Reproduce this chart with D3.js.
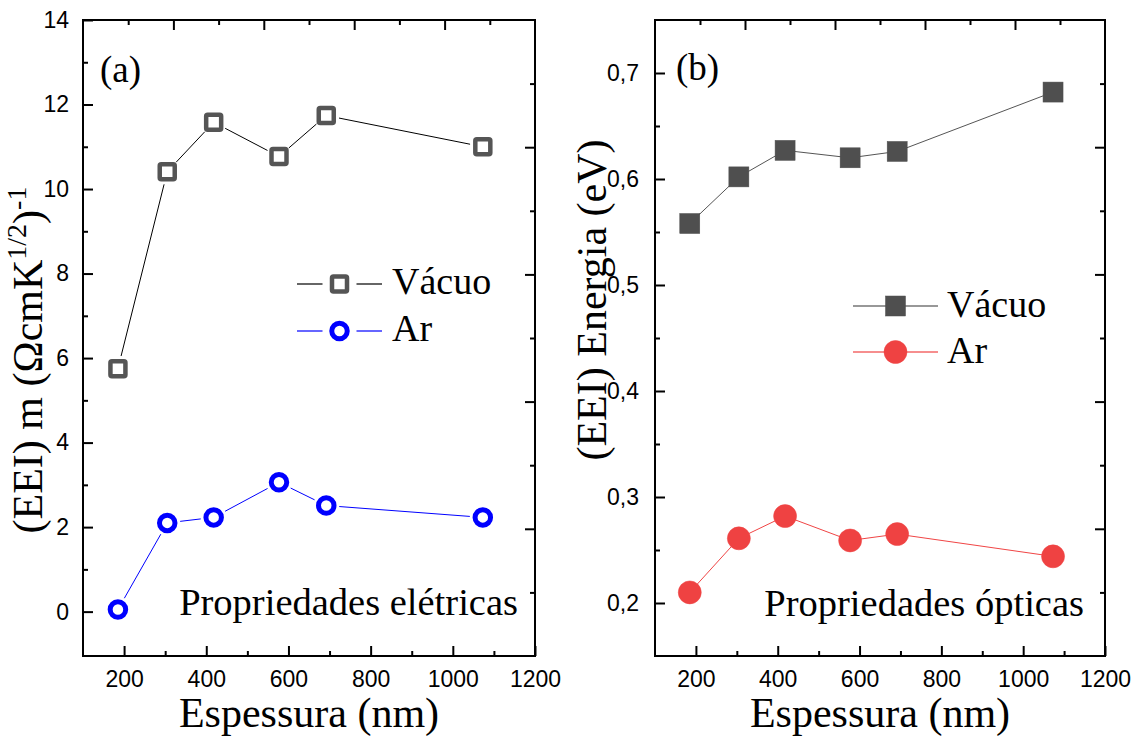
<!DOCTYPE html>
<html>
<head>
<meta charset="utf-8">
<script src="https://cdn.jsdelivr.net/npm/d3@7"></script>
<style>
  html, body { margin: 0; padding: 0; background: #fff; }
  svg { display: block; }
</style>
</head>
<body>
<svg id="chart" width="1138" height="738"></svg>
<script>
// ---- data ----
const thickness = [185, 305, 418, 577, 692, 1073];
const mVacuo = [5.75, 10.41, 11.58, 10.77, 11.74, 11.0];
const mAr = [0.05, 2.1, 2.23, 3.06, 2.51, 2.23];
const eVacuo = [0.558, 0.602, 0.627, 0.620, 0.626, 0.682];
const eAr = [0.210, 0.261, 0.282, 0.259, 0.265, 0.244];
const xTickValues = [200, 400, 600, 800, 1000, 1200];
const xMinorValues = [300, 500, 700, 900, 1100];
const yTicksA = [0, 2, 4, 6, 8, 10, 12, 14];
const yMinorA = [1, 3, 5, 7, 9, 11, 13];
const yTicksB = [0.2, 0.3, 0.4, 0.5, 0.6, 0.7];
const yMinorB = [0.25, 0.35, 0.45, 0.55, 0.65];
const seriesNames = ["Vácuo", "Ar"];

const svg = d3.select("#chart");
const SERIF = "'Liberation Serif','Times New Roman',Times,serif";
const SANS = "'Liberation Sans',Arial,Helvetica,sans-serif";

function panel(cfg) {
  const g = svg.append("g");
  const x = d3.scaleLinear().domain([100, 1200]).range([cfg.left, cfg.right]);
  const y = d3.scaleLinear().domain(cfg.yDomain).range([cfg.bottom, cfg.top]);
  const xt = d3.scaleLinear().domain([0, 10]).range([cfg.left, cfg.right]);
  const yr = d3.scaleLinear().domain([0, 10]).range([cfg.top, cfg.bottom]);
  const MAJ = 10, MIN = 5;

  // bottom axis
  const bx = g.append("g").attr("transform", `translate(0,${cfg.bottom})`)
    .call(d3.axisBottom(x).tickValues(xTickValues).tickSizeInner(-MAJ).tickSizeOuter(0)
      .tickPadding(15).tickFormat(d => String(d)));
  bx.select(".domain").remove();
  bx.selectAll("text").attr("font-family", SANS).attr("font-size", 23).attr("fill", "#000");
  bx.selectAll("line").attr("stroke-width", 2);
  const bxm = g.append("g").attr("transform", `translate(0,${cfg.bottom})`)
    .call(d3.axisBottom(x).tickValues(xMinorValues).tickSizeInner(-MIN).tickSizeOuter(0).tickFormat(""));
  bxm.select(".domain").remove();
  bxm.selectAll("line").attr("stroke-width", 2);

  // left axis
  const ly = g.append("g").attr("transform", `translate(${cfg.left},0)`)
    .call(d3.axisLeft(y).tickValues(cfg.yTicks).tickSizeInner(-MAJ).tickSizeOuter(0)
      .tickPadding(cfg.labelPad).tickFormat(cfg.fmt));
  ly.select(".domain").remove();
  ly.selectAll("text").attr("font-family", SANS).attr("font-size", 23).attr("fill", "#000");
  ly.selectAll("line").attr("stroke-width", 2);
  const lym = g.append("g").attr("transform", `translate(${cfg.left},0)`)
    .call(d3.axisLeft(y).tickValues(cfg.yMinor).tickSizeInner(-MIN).tickSizeOuter(0).tickFormat(""));
  lym.select(".domain").remove();
  lym.selectAll("line").attr("stroke-width", 2);

  // top and right axes (independent divisions)
  [[ [2,4,6,8], MAJ ], [ [1,3,5,7,9], MIN ]].forEach(([vals, len]) => {
    const t = g.append("g").attr("transform", `translate(0,${cfg.top})`)
      .call(d3.axisTop(xt).tickValues(vals).tickSizeInner(-len).tickSizeOuter(0).tickFormat(""));
    t.select(".domain").remove();
    t.selectAll("line").attr("stroke-width", 2);
    const r = g.append("g").attr("transform", `translate(${cfg.right},0)`)
      .call(d3.axisRight(yr).tickValues(vals).tickSizeInner(-len).tickSizeOuter(0).tickFormat(""));
    r.select(".domain").remove();
    r.selectAll("line").attr("stroke-width", 2);
  });

  // frame
  g.append("rect").attr("x", cfg.left).attr("y", cfg.top)
    .attr("width", cfg.right - cfg.left).attr("height", cfg.bottom - cfg.top)
    .attr("fill", "none").attr("stroke", "#000").attr("stroke-width", 2);

  // series lines
  cfg.series.forEach(s => {
    const pts = thickness.map((t, i) => [x(t), y(s.values[i])]);
    if (s.gap > 0) {
      for (let i = 0; i < pts.length - 1; i++) {
        const [x0, y0] = pts[i], [x1, y1] = pts[i + 1];
        const d = Math.hypot(x1 - x0, y1 - y0);
        const ux = (x1 - x0) / d, uy = (y1 - y0) / d;
        g.append("line")
          .attr("x1", x0 + ux * s.gap).attr("y1", y0 + uy * s.gap)
          .attr("x2", x1 - ux * s.gap).attr("y2", y1 - uy * s.gap)
          .attr("stroke", s.lineColor).attr("stroke-width", 1);
      }
    } else {
      g.append("path").attr("d", d3.line()(pts)).attr("fill", "none")
        .attr("stroke", s.lineColor).attr("stroke-width", 1);
    }
  });
  // markers
  cfg.series.forEach(s => {
    thickness.forEach((t, i) => drawMarker(g, s, x(t), y(s.values[i])));
  });

  // legend
  cfg.series.forEach((s, i) => {
    const ly0 = cfg.legend.y + i * cfg.legend.dy;
    const lx0 = cfg.legend.x0, lx1 = cfg.legend.x1, cx = (lx0 + lx1) / 2;
    const lg = cfg.legend.gap;
    if (lg > 0) {
      g.append("line").attr("x1", lx0).attr("x2", cx - lg).attr("y1", ly0).attr("y2", ly0)
        .attr("stroke", s.lineColor).attr("stroke-width", 1.5).attr("opacity", 0.8);
      g.append("line").attr("x1", cx + lg).attr("x2", lx1).attr("y1", ly0).attr("y2", ly0)
        .attr("stroke", s.lineColor).attr("stroke-width", 1.5).attr("opacity", 0.8);
    } else {
      g.append("line").attr("x1", lx0).attr("x2", lx1).attr("y1", ly0).attr("y2", ly0)
        .attr("stroke", s.lineColor).attr("stroke-width", 1.5).attr("opacity", 0.8);
    }
    drawMarker(g, s, cx, ly0);
    g.append("text").attr("x", cfg.legend.tx).attr("y", ly0 + cfg.legend.baseOff)
      .attr("font-family", SERIF).attr("font-size", 38).attr("fill", "#000").text(seriesNames[i]);
  });

  // panel label
  g.append("text").attr("x", cfg.tag.x).attr("y", cfg.tag.y)
    .attr("font-family", SERIF).attr("font-size", 37).text(cfg.tag.text);
  // annotation
  g.append("text").attr("x", cfg.note.x).attr("y", cfg.note.y).attr("text-anchor", "end")
    .attr("font-family", SERIF).attr("font-size", 38.5).text(cfg.note.text);
  // x title
  g.append("text").attr("x", (cfg.left + cfg.right) / 2).attr("y", 727).attr("text-anchor", "middle")
    .attr("font-family", SERIF).attr("font-size", 42).text("Espessura (nm)");
  // y title
  const yt = g.append("text").attr("transform", `translate(${cfg.ytitle.x},${cfg.ytitle.y}) rotate(-90)`)
    .attr("text-anchor", "middle").attr("font-family", SERIF).attr("font-size", 42);
  cfg.ytitle.parts.forEach(p => {
    const ts = yt.append("tspan").text(p.t);
    if (p.sup) ts.attr("font-size", 28).attr("dy", -16);
    if (p.down) ts.attr("dy", 16);
  });
}

function drawMarker(g, s, cx, cy) {
  if (s.shape === "square") {
    const sz = s.size;
    g.append("rect").attr("x", cx - sz / 2).attr("y", cy - sz / 2).attr("width", sz).attr("height", sz)
      .attr("rx", s.filled ? 0 : 1.5)
      .attr("fill", s.filled ? s.color : "#fff").attr("stroke", s.color).attr("stroke-width", s.sw);
  } else {
    g.append("circle").attr("cx", cx).attr("cy", cy).attr("r", s.size / 2)
      .attr("fill", s.filled ? s.color : "#fff").attr("stroke", s.color).attr("stroke-width", s.sw);
  }
}

const comma = d => d3.format(".1f")(d).replace(".", ",");

panel({
  left: 83, right: 535, top: 20, bottom: 656,
  yDomain: [-1.05, 14], yTicks: yTicksA, yMinor: yMinorA, fmt: d => d, labelPad: 14,
  series: [
    { values: mVacuo, shape: "square", filled: false, color: "#555555", lineColor: "#000", size: 15, sw: 4.5, gap: 13 },
    { values: mAr, shape: "circle", filled: false, color: "#0000ff", lineColor: "#0000ff", size: 15.5, sw: 5, gap: 13 }
  ],
  legend: { x0: 297, x1: 382, y: 284, dy: 47, gap: 17, tx: 392, baseOff: 10 },
  tag: { x: 100, y: 82, text: "(a)" },
  note: { x: 518, y: 615, text: "Propriedades elétricas" },
  ytitle: { x: 42, y: 360, parts: [
    { t: "(EEI) m (ΩcmK" }, { t: "1/2", sup: true }, { t: ")", down: true }, { t: "-1", sup: true } ] }
});

panel({
  left: 655, right: 1105, top: 20, bottom: 656,
  yDomain: [0.15, 0.75], yTicks: yTicksB, yMinor: yMinorB, fmt: comma, labelPad: 16,
  series: [
    { values: eVacuo, shape: "square", filled: true, color: "#4f4f4f", lineColor: "#555555", size: 20, sw: 0.5, gap: 0 },
    { values: eAr, shape: "circle", filled: true, color: "#ef4242", lineColor: "#f04545", size: 23, sw: 0.5, gap: 0 }
  ],
  legend: { x0: 853, x1: 938, y: 306, dy: 46, gap: 0, tx: 947, baseOff: 11 },
  tag: { x: 676, y: 80, text: "(b)" },
  note: { x: 1084, y: 616, text: "Propriedades ópticas" },
  ytitle: { x: 606, y: 300, parts: [ { t: "(EEI) Energia (eV)" } ] }
});
</script>
</body>
</html>
